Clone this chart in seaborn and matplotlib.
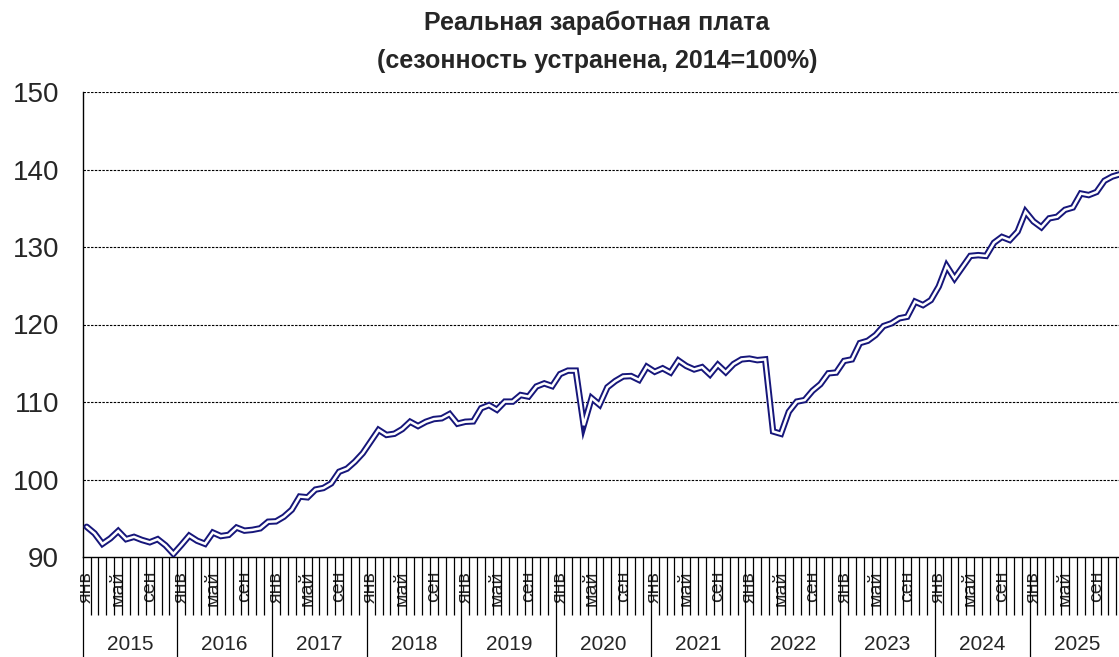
import matplotlib
matplotlib.use("Agg")
import matplotlib.pyplot as plt
import matplotlib.transforms as mtransforms
import seaborn as sns
import numpy as np
import pandas as pd

# ---- data ----
years = [2015, 2016, 2017, 2018, 2019, 2020, 2021, 2022, 2023, 2024, 2025]
month_labels = ["янв", "", "", "", "май", "", "", "", "сен", "", "", ""]
y2015 = [93.9, 93.05, 91.7, 92.4, 93.35, 92.3, 92.6, 92.2, 91.9, 92.3, 91.5, 90.4]
y2016 = [91.55, 92.75, 92.1, 91.7, 93.15, 92.7, 92.85, 93.8, 93.4, 93.5, 93.7, 94.55]
y2017 = [94.6, 95.2, 96.1, 97.8, 97.7, 98.7, 98.9, 99.5, 101.0, 101.4, 102.3, 103.4]
y2018 = [104.9, 106.4, 105.75, 105.9, 106.5, 107.45, 106.9, 107.45, 107.8, 107.9, 108.45, 107.2]
y2019 = [107.45, 107.5, 109.2, 109.6, 109.0, 110.05, 110.05, 110.9, 110.7, 112.0, 112.4, 112.05]
y2020 = [113.6, 114.05, 114.05, 107.0, 110.5, 109.65, 111.9, 112.7, 113.3, 113.35, 112.85, 114.55]
y2021 = [113.9, 114.35, 113.8, 115.35, 114.65, 114.2, 114.5, 113.55, 114.8, 113.85, 114.9, 115.5]
y2022 = [115.6, 115.4, 115.5, 106.2, 105.9, 108.75, 110.05, 110.25, 111.45, 112.3, 113.7, 113.8]
y2023 = [115.3, 115.5, 117.6, 117.9, 118.65, 119.8, 120.15, 120.8, 121.0, 122.95, 122.5, 123.15]
y2024 = [124.9, 127.55, 125.95, 127.4, 128.85, 128.95, 128.85, 130.55, 131.3, 130.9, 132.0, 134.55]
y2025 = [133.3, 132.55, 133.7, 133.9, 134.8, 135.1, 136.9, 136.7, 137.1, 138.55, 139.1, 139.4]
yticks = [90, 100, 110, 120, 130, 140, 150]
title1 = "Реальная заработная плата"
title2 = "(сезонность устранена, 2014=100%)"

values = y2015 + y2016 + y2017 + y2018 + y2019 + y2020 + y2021 + y2022 + y2023 + y2024 + y2025
df = pd.DataFrame({"idx": np.arange(len(values)), "val": values})

sns.set_style("white")
plt.rcParams["font.family"] = ["Liberation Sans", "DejaVu Sans"]

W, H = 1119, 657
fig = plt.figure(figsize=(W / 100, H / 100), dpi=100)
left_px, bottom_px, top_px = 82.7, 557, 92
slot_px = 7.89
n = len(values)
ax = fig.add_axes([left_px / W, (H - bottom_px) / H,
                   n * slot_px / W, (bottom_px - top_px) / H])

navy = "#16167A"
sns.lineplot(data=df, x="idx", y="val", ax=ax, color=navy, lw=4.6,
             solid_joinstyle="miter", zorder=3)
sns.lineplot(data=df, x="idx", y="val", ax=ax, color="white", lw=1.8,
             solid_joinstyle="miter", zorder=4)

ax.set_xlim(-0.5, n - 0.5)
ax.set_ylim(90, 150)
ax.set_xlabel("")
ax.set_ylabel("")

# y axis
ax.set_yticks(yticks)
ax.set_yticklabels([str(v) for v in yticks], fontsize=20)
ax.tick_params(axis="y", direction="out", length=8, width=0.9, color="black", pad=9)
for v in yticks[1:]:
    ax.axhline(v, color="black", lw=0.8, ls=(0, (2.2, 1.2)), zorder=1)

# spines
for s in ["top", "right"]:
    ax.spines[s].set_visible(False)
for s in ["left", "bottom"]:
    ax.spines[s].set_color("black")
    ax.spines[s].set_linewidth(1.0)

# x axis month labels
xt, xl = [], []
for k, yr in enumerate(years):
    for m, lab in enumerate(month_labels):
        if lab:
            xt.append(k * 12 + m)
            xl.append(lab)
ax.set_xticks(xt)
ax.set_xticklabels(xl, rotation=90, fontsize=14, va="top", ha="center")
ax.tick_params(axis="x", length=0, pad=10)

trans = mtransforms.blended_transform_factory(ax.transData, ax.transAxes)
plot_h = bottom_px - top_px
month_bot = -(615 - bottom_px) / plot_h
year_bot = -(H - bottom_px + 2) / plot_h
for i in range(n + 1):
    xb = i - 0.5
    if i % 12 == 0:
        ax.plot([xb, xb], [0, year_bot], transform=trans, color="black",
                lw=0.9, clip_on=False, solid_capstyle="butt")
    else:
        ax.plot([xb, xb], [0, month_bot], transform=trans, color="black",
                lw=0.9, clip_on=False, solid_capstyle="butt")

year_y = -(645 - bottom_px) / plot_h
for k, yr in enumerate(years):
    ax.text(k * 12 + 5.5, year_y, str(yr), transform=trans, ha="center",
            va="center", fontsize=15, clip_on=False)

# title
fig.text(597 / W, 1 - 23 / H, title1, ha="center", va="center",
         fontsize=18, fontweight="bold")
fig.text(597 / W, 1 - 61 / H, title2, ha="center", va="center",
         fontsize=18, fontweight="bold")

fig.savefig("out.png", dpi=100)
